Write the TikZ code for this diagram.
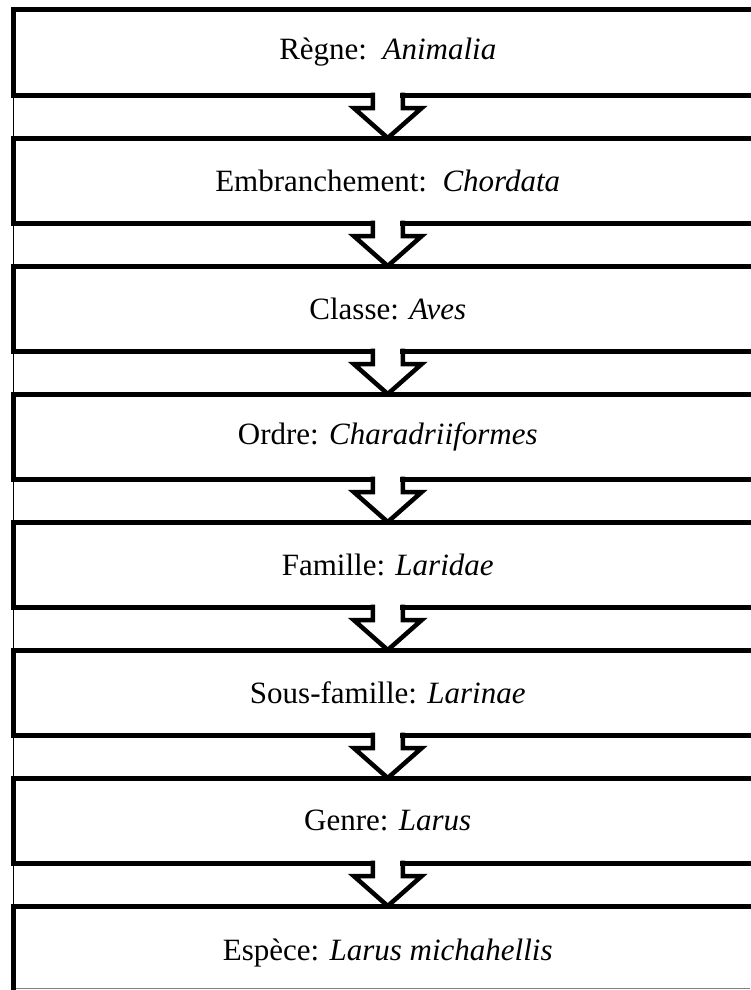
\documentclass[tikz,border=0pt]{standalone}
\usepackage{fontspec}
\setmainfont{Liberation Serif}
\usetikzlibrary{calc}
\begin{document}
\begin{tikzpicture}[x=1pt,y=-1pt,
  box/.style={draw=black, line width=5pt, rectangle, minimum width=748.5pt, minimum height=85pt,
    inner sep=0pt, outer sep=0pt, font=\fontsize{31}{37}\selectfont, anchor=center},
  lastbox/.style={box, minimum height=95pt},
  arr/.style={draw=black, line width=4.5pt, line join=miter, line cap=butt},
  link/.style={draw=black, line width=1.5pt}]
\useasboundingbox (0,0) rectangle (750,990);

\node[box] (b1) at (387.75,52.5) {Règne:\ \ \textit{Animalia}};
\node[box] (b2) at (387.75,180.5) {Embranchement:\ \ \textit{Chordata}};
\node[box] (b3) at (387.75,308.5) {Classe: \textit{Aves}};
\node[box] (b4) at (387.75,436.5) {Ordre: \textit{Charadriiformes}};
\node[box] (b5) at (387.75,564.5) {Famille: \textit{Laridae}};
\node[box] (b6) at (387.75,692.5) {Sous-famille: \textit{Larinae}};
\node[box] (b7) at (387.75,820.5) {Genre: \textit{Larus}};
\node[lastbox] (b8) at (387.75,953.5) {\raisebox{5pt}{Espèce: \textit{Larus michahellis}}};

\coordinate (bend) at (16,988.5);
\draw[gray, line width=1.5pt] (bend) -- (750,988.5);

\foreach \a/\b in {b1/b2,b2/b3,b3/b4,b4/b5,b5/b6,b6/b7,b7/b8}{
  \draw[link] (\a.south west) -- (\b.north west);
  \fill[white] ($(\a.south)+(-12.7,-3)$) rectangle ($(\a.south)+(12.7,3)$);
  \draw[arr] ($(\a.south)+(-15,-2.5)$) -- ($(\a.south)+(-15,13)$) -- ($(\a.south)+(-34,13)$)
    -- (\b.north) -- ($(\a.south)+(34,13)$) -- ($(\a.south)+(15,13)$) -- ($(\a.south)+(15,-2.5)$);
}
\end{tikzpicture}
\end{document}
